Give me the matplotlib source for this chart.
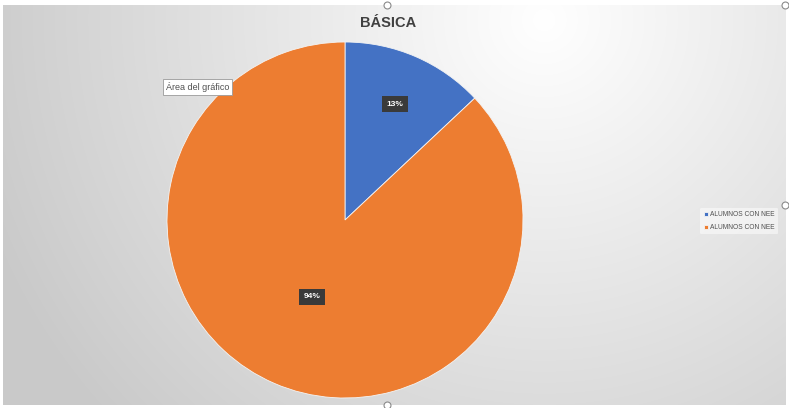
import numpy as np
import matplotlib
matplotlib.use("Agg")
import matplotlib.pyplot as plt

# ---- data ----
title = "BÁSICA"
categories = ["ALUMNOS CON NEE", "ALUMNOS CON NEE"]
values = [13, 87]
value_labels = ["13%", "94%"]
colors = ["#4472C4", "#ED7D31"]

W, H = 789, 408
fig = plt.figure(figsize=(W / 100, H / 100), dpi=100)
fig.patch.set_facecolor("white")

# background gradient (chart area, inside a thin white margin)
bg = fig.add_axes([0, 0, 1, 1])
yy, xx = np.mgrid[0:H, 0:W]
d = np.sqrt((xx - 545) ** 2 + (yy - 15) ** 2)
g = 1.0 - 0.21 * np.clip(d / 600, 0, 1)
img = np.dstack([g, g, g])
bg.imshow(img, extent=[3, W - 3, H - 3, 5], aspect="auto", interpolation="bilinear")
bg.set_xlim(0, W)
bg.set_ylim(H, 0)
bg.axis("off")

ax = fig.add_axes([0, 0, 1, 1])
ax.patch.set_alpha(0)
cx, cy, r = 345, H - 220, 178
wedges, _ = ax.pie(values, colors=colors, startangle=90, counterclock=False,
                   center=(cx, cy), radius=r,
                   wedgeprops=dict(linewidth=0.6, edgecolor="#f4f4f4"))
ax.set_xlim(0, W)
ax.set_ylim(0, H)
ax.axis("off")

label_dist = [0.71, 0.47]
for w, lab, ld in zip(wedges, value_labels, label_dist):
    ang = np.deg2rad((w.theta1 + w.theta2) / 2)
    x = cx + ld * r * np.cos(ang)
    y = cy + ld * r * np.sin(ang)
    ax.text(x, y, lab, ha="center", va="center", fontsize=6, color="white",
            fontweight="bold", family="Liberation Sans",
            bbox=dict(boxstyle="square,pad=0.55", facecolor="#3a3a3a", edgecolor="none"))

fig.text(388 / W, 1 - 23 / H, title, ha="center", va="center", fontsize=10.5,
         fontweight="bold", color="#404040", family="Liberation Sans")

# tooltip
fig.text(166 / W, 1 - 87 / H, "Área del gráfico", ha="left", va="center", fontsize=6.5,
         color="#505050", family="Liberation Sans",
         bbox=dict(boxstyle="square,pad=0.3", facecolor="white", edgecolor="#9a9a9a", linewidth=0.6))

# selection handles
for hx, hy in [(387, 5), (785, 5), (785, 205), (387, 405)]:
    bg.plot(hx, hy, marker="o", markersize=5, markerfacecolor="white",
            markeredgecolor="#8a8a8a", markeredgewidth=0.8)

leg = fig.legend(wedges, categories, loc="center left", bbox_to_anchor=(697 / W, 1 - 221 / H),
                 frameon=True, handlelength=0.6, handleheight=0.6,
                 handletextpad=0.4, labelspacing=0.9, borderpad=0.5, labelcolor="#505050",
                 prop={"family": "Liberation Sans", "size": 4.8})
leg.get_frame().set_facecolor("white")
leg.get_frame().set_alpha(0.5)
leg.get_frame().set_edgecolor("none")

fig.savefig("out.png", dpi=100)
